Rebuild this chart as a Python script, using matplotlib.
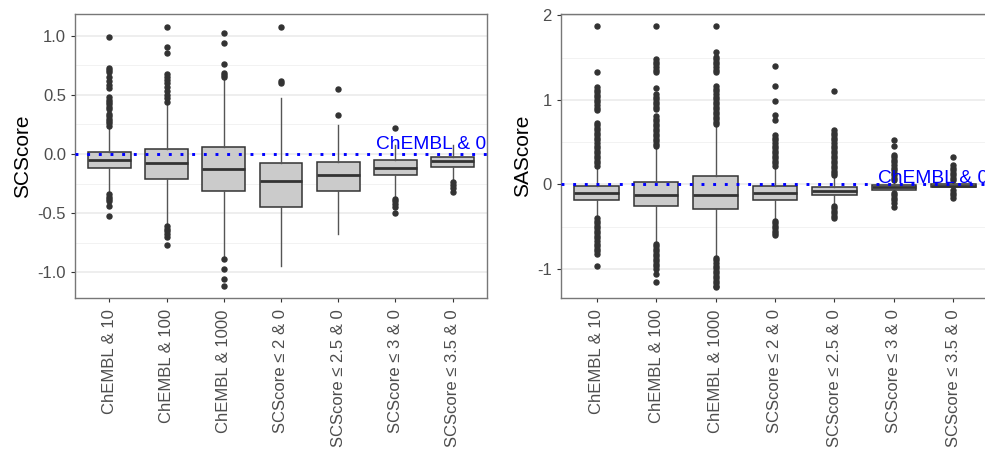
import matplotlib.pyplot as plt
import numpy as np

plt.rcParams['font.family'] = ['Liberation Sans', 'DejaVu Sans']

categories = ["ChEMBL & 10", "ChEMBL & 100", "ChEMBL & 1000",
              "SCScore \u2264 2 & 0", "SCScore \u2264 2.5 & 0",
              "SCScore \u2264 3 & 0", "SCScore \u2264 3.5 & 0"]

# SCScore panel (left)
sc_q1 = [-0.12, -0.21, -0.31, -0.45, -0.31, -0.18, -0.107]
sc_med = [-0.05, -0.078, -0.13, -0.225, -0.175, -0.115, -0.06]
sc_q3 = [0.02, 0.045, 0.062, -0.073, -0.07, -0.053, -0.028]
sc_lo = [-0.33, -0.59, -0.88, -0.95, -0.675, -0.36, -0.22]
sc_hi = [0.22, 0.42, 0.63, 0.47, 0.245, 0.08, 0.076]
sc_out = [
    [0.99, 0.73, 0.71, 0.69, 0.65, 0.62, 0.58, 0.56, 0.48, 0.46, 0.44, 0.42,
     0.40, 0.38, 0.34, 0.32, 0.30, 0.28, 0.26, 0.24,
     -0.34, -0.36, -0.38, -0.40, -0.44, -0.52],
    [1.076, 0.907, 0.85, 0.676, 0.65, 0.63, 0.60, 0.57, 0.53, 0.50, 0.47, 0.44,
     -0.61, -0.63, -0.65, -0.68, -0.70, -0.77],
    [1.02, 0.935, 0.76, 0.687, 0.67, 0.65, -0.89, -0.975, -1.06, -1.115],
    [1.07, 0.62, 0.60],
    [0.55, 0.33],
    [0.22, -0.38, -0.40, -0.42, -0.45, -0.50],
    [-0.235, -0.26, -0.29, -0.32],
]

# SAScore panel (right)
sa_q1 = [-0.18, -0.26, -0.29, -0.185, -0.126, -0.067, -0.035]
sa_med = [-0.10, -0.126, -0.126, -0.10, -0.075, -0.035, -0.02]
sa_q3 = [-0.02, 0.03, 0.10, -0.02, -0.03, -0.008, 0.0]
sa_lo = [-0.39, -0.68, -0.86, -0.41, -0.23, -0.09, -0.06]
sa_hi = [0.20, 0.44, 0.69, 0.20, 0.10, 0.04, 0.03]
sa_out = [
    [1.87, 1.33, 1.15, 1.12, 1.09, 1.06, 1.03, 1.00, 0.97, 0.94, 0.91, 0.88,
     0.73, 0.70, 0.67, 0.64, 0.61, 0.58, 0.55, 0.52, 0.49, 0.46, 0.43, 0.40,
     0.37, 0.34, 0.31, 0.28, 0.25, 0.22,
     -0.40, -0.43, -0.46, -0.49, -0.52, -0.55, -0.58, -0.61, -0.64, -0.67,
     -0.70, -0.73, -0.76, -0.79, -0.82, -0.96],
    [1.87, 1.48, 1.45, 1.42, 1.39, 1.36, 1.33, 1.14, 1.07, 1.04, 1.01, 0.98,
     0.95, 0.92, 0.89, 0.81, 0.78, 0.75, 0.72, 0.69, 0.66, 0.63, 0.60, 0.57,
     0.54, 0.51, 0.48, 0.46,
     -0.70, -0.73, -0.76, -0.79, -0.82, -0.85, -0.88, -0.91, -0.94, -0.97,
     -1.00, -1.06, -1.15],
    [1.87, 1.57, 1.51, 1.48, 1.45, 1.42, 1.39, 1.36, 1.33, 1.16, 1.13, 1.10,
     1.07, 1.04, 1.01, 0.98, 0.95, 0.92, 0.89, 0.86, 0.83, 0.80, 0.77, 0.74,
     0.71,
     -0.87, -0.90, -0.93, -0.96, -0.99, -1.02, -1.05, -1.08, -1.11, -1.14,
     -1.17, -1.20, -1.22],
    [1.40, 1.17, 0.99, 0.82, 0.76, 0.58, 0.55, 0.52, 0.49, 0.46, 0.43, 0.40,
     0.37, 0.34, 0.31, 0.28, 0.25, 0.22,
     -0.43, -0.46, -0.49, -0.52, -0.55, -0.58, -0.60],
    [1.10, 0.64, 0.61, 0.58, 0.55, 0.52, 0.49, 0.46, 0.43, 0.40, 0.37, 0.34,
     0.31, 0.28, 0.25, 0.22, 0.19, 0.16, 0.13, 0.11,
     -0.25, -0.28, -0.31, -0.34, -0.37, -0.40],
    [0.52, 0.46, 0.35, 0.32, 0.29, 0.26, 0.23, 0.20, 0.17, 0.14, 0.11, 0.08,
     0.05, -0.10, -0.13, -0.16, -0.19, -0.22, -0.265],
    [0.32, 0.23, 0.20, 0.17, 0.14, 0.11, 0.08, 0.05, -0.07, -0.10, -0.13,
     -0.165],
]

ref_label = "ChEMBL & 0"

fig = plt.figure(figsize=(9.85, 4.55), dpi=100)
ax1 = fig.add_axes([0.0761, 0.345, 0.4183, 0.624])
ax2 = fig.add_axes([0.5695, 0.345, 0.4345, 0.624])


def panel(ax, q1, med, q3, lo, hi, out, ylabel, ylim, major, minor, fmt, ty):
    stats = []
    for i in range(len(categories)):
        stats.append(dict(q1=q1[i], med=med[i], q3=q3[i], whislo=lo[i],
                          whishi=hi[i], fliers=out[i], label=categories[i]))
    ax.bxp(stats, positions=np.arange(1, 8), widths=0.75, patch_artist=True,
           showcaps=False,
           boxprops=dict(facecolor="#CBCBCB", edgecolor="#333333", linewidth=1.1),
           medianprops=dict(color="#333333", linewidth=2.0),
           whiskerprops=dict(color="#555555", linewidth=1.0),
           flierprops=dict(marker="o", markerfacecolor="#333333",
                           markeredgecolor="#333333", markersize=3.6))
    ax.set_xlim(0.4, 7.6)
    ax.set_ylim(*ylim)
    ax.set_yticks(major)
    ax.set_yticks(minor, minor=True)
    ax.set_yticklabels([fmt.format(v) for v in major])
    ax.set_axisbelow(True)
    ax.grid(axis="y", which="major", color="#EBEBEB", linewidth=1.2)
    ax.grid(axis="y", which="minor", color="#F2F2F2", linewidth=0.7)
    ax.tick_params(axis="y", which="minor", length=0)
    ax.tick_params(axis="both", which="major", colors="#333333", length=3,
                   labelcolor="#4D4D4D", labelsize=12)
    ax.tick_params(axis="x", labelrotation=90, pad=5)
    for s in ax.spines.values():
        s.set_color("#777777")
        s.set_linewidth(1.0)
    ax.set_ylabel(ylabel, fontsize=15, labelpad=4)
    ax.axhline(0, color="#0000FF", linewidth=2.1, linestyle=(0, (1, 3)),
               zorder=5)
    ax.text(7.58, ty, ref_label, color="#0000FF", fontsize=13.8,
            ha="right", va="baseline", zorder=6)


panel(ax1, sc_q1, sc_med, sc_q3, sc_lo, sc_hi, sc_out, "SCScore",
      (-1.217, 1.183), [-1.0, -0.5, 0.0, 0.5, 1.0],
      [-0.75, -0.25, 0.25, 0.75], "{:.1f}", 0.04)
panel(ax2, sa_q1, sa_med, sa_q3, sa_lo, sa_hi, sa_out, "SAScore",
      (-1.345, 2.016), [-1, 0, 1, 2], [-0.5, 0.5, 1.5], "{:d}", 0.02)

fig.savefig("out.png", dpi=100)
